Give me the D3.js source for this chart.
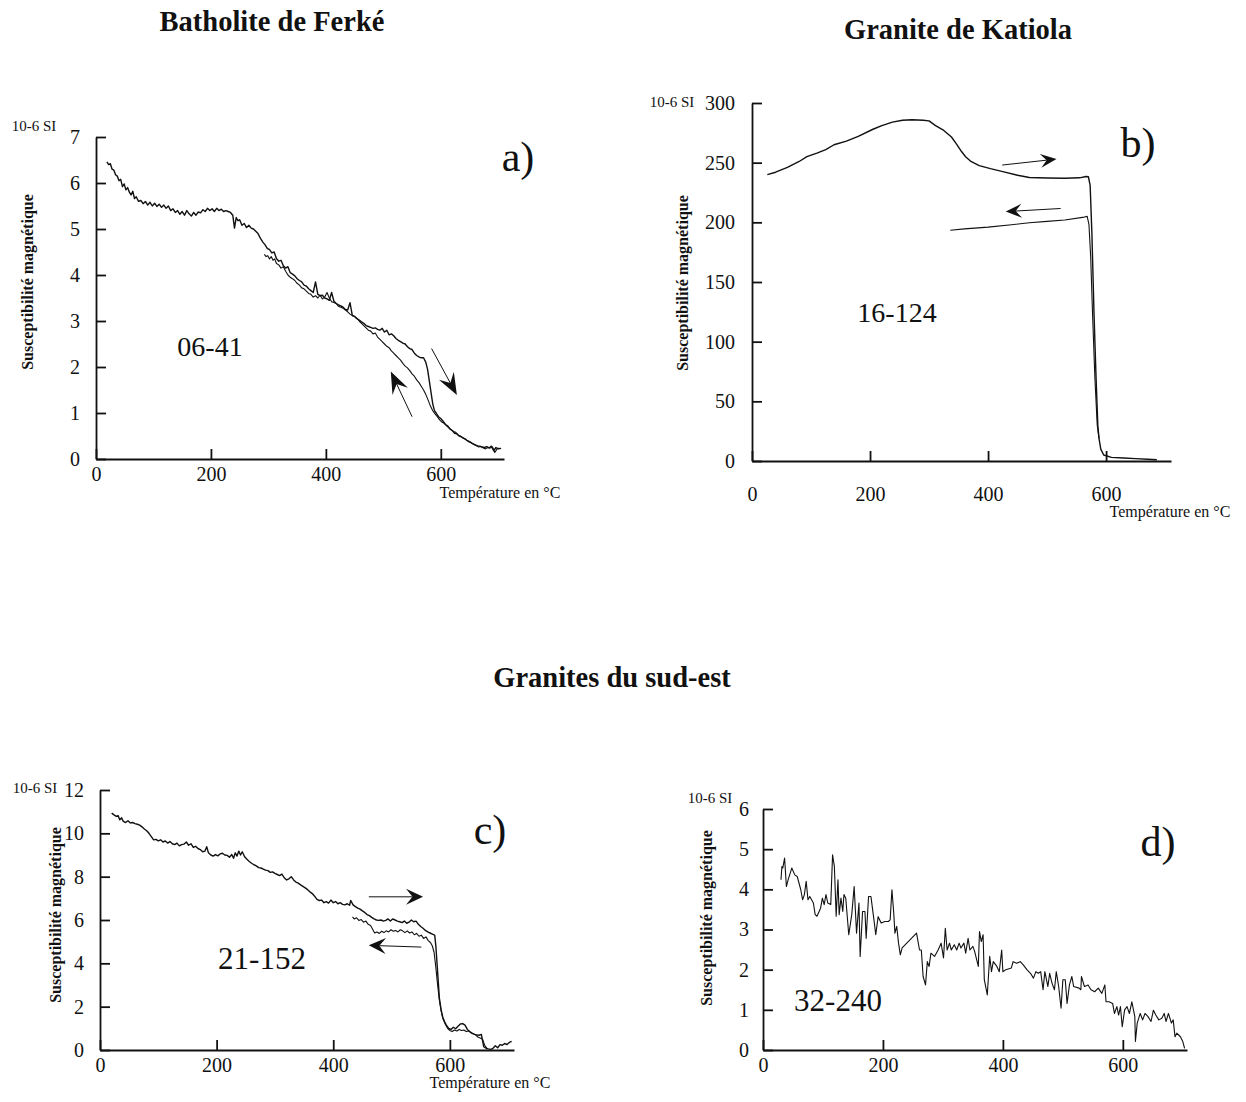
<!DOCTYPE html>
<html><head><meta charset="utf-8">
<script src="https://cdn.jsdelivr.net/npm/d3@7"></script>
<style>
body{margin:0;background:#fff}
svg{display:block}
text{font-family:"Liberation Serif","Times New Roman",serif;fill:#111}
</style>
</head><body>
<svg id="chart" width="1246" height="1102"></svg>
<script>
// ---------- data ----------
const xTickValues = [0, 200, 400, 600];
const aYTicks = [0, 1, 2, 3, 4, 5, 6, 7];
const bYTicks = [0, 50, 100, 150, 200, 250, 300];
const cYTicks = [0, 2, 4, 6, 8, 10, 12];
const dYTicks = [0, 1, 2, 3, 4, 5, 6];

const sectionTitles = ["Batholite de Ferké", "Granite de Katiola", "Granites du sud-est"];
const panelLetters = ["a)", "b)", "c)", "d)"];
const sampleNames = ["06-41", "16-124", "21-152", "32-240"];
const unitLabel = "10-6 SI";
const yTitle = "Susceptibilité magnétique";
const xTitle = "Température en °C";

// a) 06-41 heating (T °C, K)
const aHeating = [[19,6.46],[22,6.40],[25,6.42],[28,6.30],[31,6.28],[34,6.18],[37,6.15],[40,6.05],[43,6.08],[46,5.92],[49,5.98],[52,5.85],[55,5.90],[58,5.80],[61,5.74],[64,5.82],[67,5.66],[70,5.70],[74,5.60],[78,5.62],[82,5.55],[86,5.60],[90,5.52],[94,5.58],[98,5.50],[102,5.56],[106,5.49],[110,5.54],[114,5.47],[118,5.52],[122,5.45],[126,5.50],[130,5.40],[134,5.44],[138,5.36],[142,5.40],[146,5.32],[150,5.38],[154,5.30],[158,5.40],[162,5.33],[166,5.28],[170,5.36],[174,5.30],[178,5.37],[182,5.35],[186,5.42],[190,5.38],[194,5.45],[198,5.40],[202,5.44],[206,5.38],[210,5.45],[214,5.40],[218,5.43],[222,5.38],[226,5.40],[230,5.38],[234,5.36],[238,5.30],[241,5.02],[244,5.25],[247,5.18],[250,5.20],[254,5.08],[258,5.12],[262,5.03],[266,5.08],[270,5.02],[274,5.00],[278,4.95],[282,4.90],[286,4.80],[290,4.72],[294,4.66],[298,4.58],[302,4.55],[306,4.48],[310,4.50],[314,4.36],[318,4.30],[322,4.32],[326,4.20],[330,4.15],[334,4.18],[338,4.05],[342,4.02],[346,3.98],[350,3.92],[354,3.88],[358,3.85],[362,3.78],[366,3.76],[370,3.70],[374,3.66],[378,3.62],[382,3.85],[386,3.58],[390,3.55],[394,3.56],[398,3.50],[402,3.48],[406,3.45],[410,3.62],[414,3.43],[418,3.38],[422,3.35],[426,3.33],[430,3.30],[434,3.25],[438,3.24],[442,3.40],[446,3.12],[450,3.10],[454,3.05],[458,3.02],[462,2.98],[466,2.95],[470,2.90],[474,2.88],[478,2.86],[482,2.84],[486,2.85],[490,2.82],[494,2.80],[498,2.84],[502,2.76],[506,2.80],[510,2.70],[514,2.72],[518,2.68],[522,2.62],[526,2.58],[530,2.55],[534,2.52],[538,2.50],[542,2.44],[546,2.40],[550,2.38],[554,2.30],[558,2.25],[562,2.22],[566,2.20],[570,2.20],[574,2.10],[577,1.95],[580,1.70],[583,1.45],[586,1.20],[589,1.05],[592,1.00],[596,0.92],[600,0.88],[604,0.82],[608,0.75],[612,0.72],[616,0.65],[620,0.62],[624,0.56],[628,0.55],[632,0.50],[636,0.48],[640,0.45],[644,0.42],[648,0.38],[652,0.36],[656,0.33],[660,0.30],[664,0.28],[668,0.28],[672,0.26],[676,0.25],[680,0.27],[684,0.24],[688,0.28],[692,0.18],[696,0.25],[700,0.22],[705,0.23]];
// a) 06-41 cooling
const aCooling = [[293,4.45],[296,4.40],[299,4.42],[302,4.35],[305,4.40],[308,4.32],[311,4.35],[314,4.25],[318,4.22],[322,4.15],[326,4.18],[330,4.08],[334,4.00],[338,3.95],[342,3.92],[346,3.88],[350,3.82],[354,3.78],[358,3.72],[362,3.70],[366,3.65],[370,3.60],[374,3.58],[378,3.52],[382,3.55],[386,3.50],[390,3.56],[394,3.48],[398,3.52],[402,3.62],[406,3.50],[410,3.42],[414,3.40],[418,3.38],[422,3.32],[426,3.30],[430,3.28],[434,3.24],[438,3.20],[442,3.15],[446,3.12],[450,3.10],[454,3.06],[458,3.00],[462,2.95],[466,2.90],[470,2.85],[474,2.80],[478,2.78],[482,2.72],[486,2.74],[490,2.65],[494,2.60],[498,2.55],[502,2.50],[506,2.45],[510,2.42],[514,2.35],[518,2.30],[522,2.25],[526,2.20],[530,2.15],[534,2.08],[538,2.02],[542,1.98],[546,1.92],[550,1.85],[554,1.80],[558,1.72],[562,1.66],[566,1.58],[570,1.50],[574,1.40],[578,1.28],[582,1.15],[586,1.05],[590,0.98],[594,0.92],[598,0.85],[602,0.80],[606,0.78],[610,0.72],[614,0.68],[618,0.64],[622,0.60],[626,0.58],[630,0.52],[634,0.50],[638,0.46],[642,0.44],[646,0.40],[650,0.38],[654,0.34],[658,0.32],[662,0.30],[666,0.26],[670,0.27],[674,0.24],[678,0.22],[682,0.25],[686,0.24],[690,0.26],[694,0.14],[698,0.22],[702,0.24]];

// b) 16-124
const bHeating = [[26,240],[40,242],[60,246],[80,251],[93,255],[110,258],[125,261],[139,265],[160,268],[180,272],[205,278],[220,281],[238,284],[255,285.5],[271,286],[290,285.5],[300,285],[311,281],[325,277],[338,271.5],[346,266],[354,260],[362,255],[371,251],[385,247.5],[404,245],[425,242.5],[450,239.5],[470,237.6],[500,237.2],[530,237],[555,237.3],[566,238.4],[570,238.2],[573,231],[576,190],[579.5,124],[583,70],[586,30],[588,19],[591,10],[596,5],[609,3],[630,2.5],[650,2],[670,1.5],[686,1]];
const bCooling = [[336,193.4],[360,194.5],[400,196],[440,198],[470,199.7],[500,200.8],[530,202],[563,204.4],[568,205],[571,198],[574,170],[577,124],[581,70],[585,30],[588,19]];

// c) 21-152
const cHeating = [[20,10.93],[24,10.85],[28,10.78],[31,10.82],[34,10.62],[37,10.72],[40,10.55],[44,10.50],[48,10.58],[52,10.48],[56,10.50],[60,10.45],[64,10.42],[68,10.38],[72,10.30],[76,10.20],[80,10.12],[84,10.00],[88,9.85],[92,9.70],[96,9.72],[100,9.65],[104,9.70],[108,9.60],[112,9.65],[116,9.55],[120,9.62],[124,9.52],[128,9.48],[132,9.55],[136,9.42],[140,9.48],[144,9.50],[148,9.60],[152,9.45],[156,9.52],[160,9.35],[164,9.40],[168,9.30],[172,9.25],[176,9.15],[180,9.18],[183,9.38],[186,9.10],[190,9.00],[194,8.95],[198,9.02],[202,8.96],[206,9.05],[210,9.08],[214,9.00],[218,8.98],[222,8.90],[226,9.02],[229,8.85],[232,9.10],[235,8.95],[238,9.18],[241,9.00],[244,9.15],[248,8.92],[252,8.80],[256,8.70],[260,8.62],[264,8.55],[268,8.50],[272,8.42],[276,8.40],[280,8.35],[284,8.30],[288,8.28],[292,8.20],[296,8.22],[300,8.15],[304,8.10],[308,8.05],[312,8.12],[316,7.95],[320,7.85],[324,7.90],[328,8.00],[332,7.85],[336,7.75],[340,7.70],[344,7.62],[348,7.55],[352,7.48],[356,7.40],[360,7.30],[364,7.22],[368,7.10],[372,6.95],[376,6.90],[380,6.92],[384,6.80],[388,6.85],[392,6.78],[396,6.92],[400,6.80],[404,6.85],[408,6.75],[412,6.80],[416,6.72],[420,6.70],[424,6.75],[428,6.68],[430,6.90],[434,6.70],[438,6.62],[442,6.55],[446,6.50],[450,6.42],[454,6.35],[458,6.25],[462,6.20],[466,6.12],[470,6.05],[474,6.00],[478,5.98],[482,6.00],[486,5.95],[490,5.98],[494,6.05],[498,5.95],[502,6.05],[506,6.00],[510,5.95],[514,5.92],[518,5.88],[522,5.95],[526,5.85],[530,5.90],[534,6.00],[538,5.92],[542,5.95],[546,5.80],[550,5.70],[554,5.62],[558,5.52],[562,5.45],[566,5.40],[570,5.35],[574,5.30],[576,4.80],[578,4.00],[580,3.20],[582,2.40],[585,1.85],[588,1.50],[591,1.30],[594,1.15],[598,1.00],[602,0.95],[606,1.05],[610,0.98],[614,1.10],[618,1.20],[622,1.22],[626,1.15],[630,0.95],[634,0.85],[638,0.78],[642,0.72],[646,0.70],[650,0.68],[654,0.72],[656,0.45],[658,0.15],[662,0.08],[666,0.05],[670,0.03],[674,0.08],[678,0.20],[682,0.10],[686,0.25],[690,0.22],[694,0.30],[698,0.25],[702,0.35],[706,0.40]];
const cCooling = [[433,6.14],[436,6.05],[440,6.10],[444,5.98],[448,6.02],[452,5.90],[456,5.95],[460,5.80],[464,5.75],[468,5.55],[471,5.40],[475,5.45],[479,5.38],[483,5.48],[487,5.42],[491,5.50],[495,5.45],[499,5.55],[503,5.48],[507,5.52],[511,5.45],[515,5.55],[519,5.50],[523,5.42],[527,5.50],[531,5.40],[535,5.45],[539,5.32],[543,5.38],[547,5.25],[551,5.30],[555,5.15],[559,5.22],[563,5.05],[567,4.95],[570,4.80],[573,4.50],[576,3.80],[579,3.00],[582,2.30],[585,1.80],[588,1.45],[592,1.20],[596,1.00],[600,0.90],[604,0.85],[608,0.92],[612,0.88],[616,0.95],[620,0.90],[624,0.92],[628,0.85],[632,0.88],[636,0.80],[640,0.75],[644,0.70],[648,0.60],[652,0.55],[656,0.50],[660,0.20],[664,0.05]];

// d) 32-240
const dSeries = [[30,4.24],[31.5,4.57],[33,4.53],[36,4.78],[39,4.07],[42,4.24],[48,4.53],[53,4.36],[57,4.32],[63,3.99],[66,3.74],[69,3.87],[72,4.20],[75,3.74],[78,3.82],[84,3.66],[87,3.37],[90,3.33],[96,3.53],[99,3.78],[102,3.62],[105,3.87],[108,3.66],[113,3.62],[116,4.86],[119,4.57],[122,3.33],[125,4.24],[127,3.37],[130,3.78],[133,3.45],[135,3.87],[138,3.78],[143,2.87],[148,3.37],[152,4.07],[156,2.91],[160,3.66],[162,2.33],[166,3.45],[170,3.45],[172,2.78],[176,3.82],[180,3.82],[185,3.24],[188,2.87],[192,3.32],[197,3.16],[203,3.20],[209,3.20],[212,3.24],[215,3.99],[218,3.41],[220,2.91],[223,3.08],[226,2.66],[229,2.37],[232,2.54],[256,2.91],[261,2.49],[264,2.49],[267,1.83],[271,1.62],[274,2.20],[277,2.08],[280,2.41],[286,2.33],[292,2.49],[297,2.66],[301,2.29],[304,3.03],[307,2.49],[311,2.66],[314,2.49],[319,2.62],[323,2.49],[327,2.66],[330,2.54],[335,2.66],[338,2.41],[342,2.78],[345,2.49],[350,2.58],[353,2.45],[359,2.08],[361,2.95],[364,2.70],[367,2.87],[369,1.75],[374,1.37],[378,2.33],[381,1.95],[384,2.20],[390,2.08],[394,1.95],[398,2.49],[400,1.95],[405,2.00],[414,2.04],[417,2.20],[423,2.16],[429,2.20],[434,2.12],[440,2.00],[446,1.91],[451,1.79],[455,1.95],[459,1.91],[463,1.95],[467,1.50],[470,1.95],[475,1.58],[478,1.91],[482,1.66],[486,1.50],[489,1.95],[493,1.58],[497,1.04],[500,1.75],[504,1.75],[507,1.16],[511,1.62],[515,1.83],[518,1.58],[527,1.54],[530,1.50],[531,1.83],[536,1.58],[542,1.62],[547,1.50],[553,1.45],[559,1.54],[565,1.41],[570,1.62],[572,1.20],[577,1.20],[583,1.16],[586,0.91],[590,1.08],[593,0.87],[596,1.08],[599,0.58],[603,1.00],[607,1.08],[611,0.91],[615,1.20],[620,0.83],[621,0.21],[624,0.67],[629,0.91],[633,0.75],[637,0.91],[642,0.83],[647,0.71],[651,0.99],[655,0.87],[660,0.75],[665,0.79],[669,0.91],[672,0.71],[676,0.91],[681,0.67],[684,0.75],[687,0.33],[690,0.42],[696,0.33],[700,0.21],[703,0.04]];

// arrows (data coords: from -> to)
const aArrows = [[[550,0.92],[513,1.90]], [[584,2.40],[628,1.39]]];
const bArrows = [[[424,248],[516,253]], [[523,211.6],[430,209]]];
const cArrows = [[[461,7.07],[554,7.07]], [[551,4.75],[461,4.83]]];

// ---------- drawing ----------
const svg = d3.select("#chart");
svg.append("rect").attr("width",1246).attr("height",1102).attr("fill","#fff");

function arrowHead(g, x1, y1, x2, y2, L, W) {
  const dx = x2 - x1, dy = y2 - y1, len = Math.hypot(dx, dy);
  const ux = dx/len, uy = dy/len, px = -uy, py = ux;
  const bx = x2 - ux*L, by = y2 - uy*L;
  const nx = x2 - ux*L*0.62, ny = y2 - uy*L*0.62;
  const pts = [[x2,y2],[bx+px*W/2,by+py*W/2],[nx,ny],[bx-px*W/2,by-py*W/2]];
  g.append("path").attr("d","M"+pts.map(p=>p.join(",")).join("L")+"Z").attr("fill","#111");
  g.append("line").attr("x1",x1).attr("y1",y1).attr("x2",nx).attr("y2",ny)
    .attr("stroke","#111").attr("stroke-width",1);
}

function drawPanel(p) {
  const x = d3.scaleLinear().domain(p.xDomain).range([p.left, p.right]);
  const y = d3.scaleLinear().domain(p.yDomain).range([p.bottom, p.top]);
  const g = svg.append("g");

  const xa = g.append("g").attr("transform", `translate(0,${p.bottom})`)
    .call(d3.axisBottom(x).tickValues(xTickValues).tickSizeInner(-10).tickSizeOuter(0)
      .tickPadding(p.xPad).tickFormat(d3.format("d")));
  const ya = g.append("g").attr("transform", `translate(${p.left},0)`)
    .call(d3.axisLeft(y).tickValues(p.yTicks).tickSizeInner(-10).tickSizeOuter(0)
      .tickPadding(p.yPad).tickFormat(d3.format("d")));
  [xa, ya].forEach(a => {
    a.attr("font-family", null).attr("font-size", null);
    a.selectAll("path.domain").attr("stroke", "#111").attr("stroke-width", 1.8);
    a.selectAll(".tick line").attr("stroke", "#111").attr("stroke-width", 1.8);
    a.selectAll(".tick text").style("font-size", "20px").attr("fill", "#111");
  });

  const line = d3.line().x(d => x(d[0])).y(d => y(d[1]));
  p.series.forEach(s => {
    g.append("path").datum(s.data).attr("d", line).attr("fill", "none")
      .attr("stroke", "#111").attr("stroke-width", s.w).attr("stroke-linejoin", "round");
  });

  (p.arrows || []).forEach(a => {
    arrowHead(g, x(a[0][0]), y(a[0][1]), x(a[1][0]), y(a[1][1]), p.headL, p.headW);
  });

  g.append("text").attr("x", p.unitPos[0]).attr("y", p.unitPos[1]).attr("text-anchor", "middle")
    .style("font-size", "15px").text(unitLabel);
  g.append("text").attr("transform", `translate(${p.yTitlePos[0]},${p.yTitlePos[1]}) rotate(-90)`)
    .attr("text-anchor", "middle").style("font-size", "16px").style("font-weight", "bold").text(yTitle);
  g.append("text").attr("x", p.letterPos[0]).attr("y", p.letterPos[1]).attr("text-anchor", "middle")
    .style("font-size", "42px").text(p.letter);
  g.append("text").attr("x", p.namePos[0]).attr("y", p.namePos[1]).attr("text-anchor", "middle")
    .style("font-size", p.nameSize + "px").text(p.name);
  if (p.xTitlePos) {
    g.append("text").attr("x", p.xTitlePos[0]).attr("y", p.xTitlePos[1]).attr("text-anchor", "middle")
      .style("font-size", "16px").text(xTitle);
  }
}

// section titles
const titlePos = [[272, 31], [958, 39], [612, 687]];
sectionTitles.forEach((t, i) => {
  svg.append("text").attr("x", titlePos[i][0]).attr("y", titlePos[i][1]).attr("text-anchor", "middle")
    .style("font-size", "28.5px").style("font-weight", "bold").text(t);
});

drawPanel({
  xDomain: [0, 710], yDomain: [0, 7], yTicks: aYTicks,
  left: 96, right: 504, top: 137, bottom: 459, xPad: 8, yPad: 16,
  series: [{data: aHeating, w: 1.4}, {data: aCooling, w: 1.1}],
  arrows: aArrows, headL: 22, headW: 17,
  unitPos: [34, 131], yTitlePos: [33, 282], letterPos: [518, 171], letter: panelLetters[0],
  namePos: [210, 356], name: sampleNames[0], nameSize: 28, xTitlePos: [500, 498]
});
drawPanel({
  xDomain: [0, 710], yDomain: [0, 300], yTicks: bYTicks,
  left: 752, right: 1171, top: 103, bottom: 461, xPad: 26, yPad: 17,
  series: [{data: bHeating, w: 1.4}, {data: bCooling, w: 1.1}],
  arrows: bArrows, headL: 16, headW: 14,
  unitPos: [672, 107], yTitlePos: [688, 283], letterPos: [1138, 157], letter: panelLetters[1],
  namePos: [897, 322], name: sampleNames[1], nameSize: 28, xTitlePos: [1170, 517]
});
drawPanel({
  xDomain: [0, 710], yDomain: [0, 12], yTicks: cYTicks,
  left: 100, right: 514, top: 790, bottom: 1050, xPad: 8, yPad: 16,
  series: [{data: cHeating, w: 1.4}, {data: cCooling, w: 1.1}],
  arrows: cArrows, headL: 17, headW: 16,
  unitPos: [35, 793], yTitlePos: [61, 915], letterPos: [490, 844], letter: panelLetters[2],
  namePos: [262, 969], name: sampleNames[2], nameSize: 31, xTitlePos: [490, 1088]
});
drawPanel({
  xDomain: [0, 707], yDomain: [0, 6], yTicks: dYTicks,
  left: 763, right: 1187, top: 809, bottom: 1050, xPad: 8, yPad: 14,
  series: [{data: dSeries, w: 1.1}],
  arrows: [], headL: 0, headW: 0,
  unitPos: [710, 803], yTitlePos: [712, 918], letterPos: [1158, 856], letter: panelLetters[3],
  namePos: [838, 1011], name: sampleNames[3], nameSize: 31, xTitlePos: null
});
</script>
</body></html>
